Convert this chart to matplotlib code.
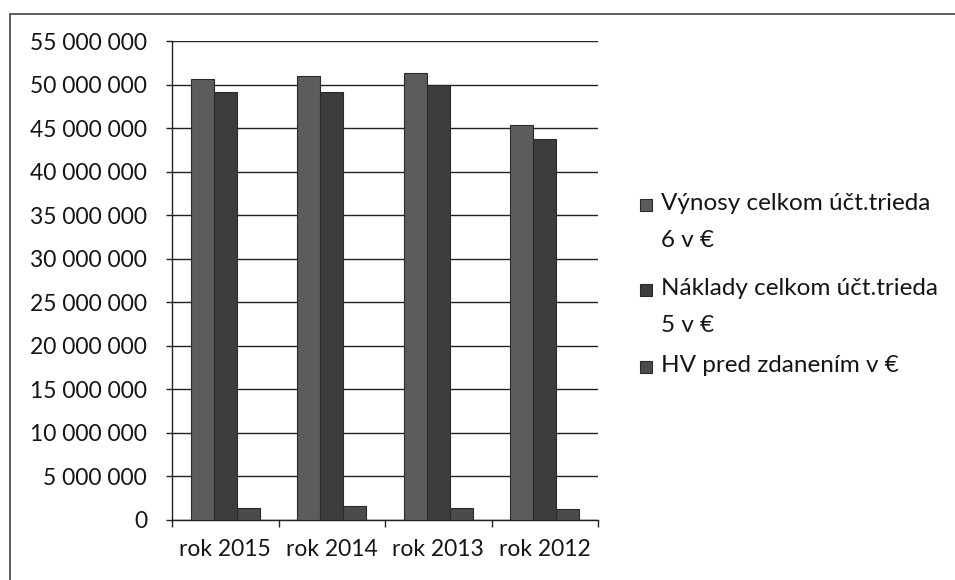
import matplotlib
matplotlib.use('Agg')
import matplotlib.pyplot as plt
import matplotlib.patches as patches
import numpy as np

# data
categories = ['rok 2015', 'rok 2014', 'rok 2013', 'rok 2012']
vynosy = [50.6e6, 51.0e6, 51.3e6, 45.3e6]
naklady = [49.2e6, 49.1e6, 49.9e6, 43.8e6]
hv = [1.38e6, 1.64e6, 1.38e6, 1.26e6]
series_names = ['Výnosy celkom účt.trieda\n6 v €',
                'Náklady celkom účt.trieda\n5 v €',
                'HV pred zdanením v €']
colors = ['#5c5c5c', '#3d3d3d', '#4b4b4b']

plt.rcParams['font.family'] = ['Lato', 'DejaVu Sans']
txt_color = '#151515'

W, H = 955, 580
fig = plt.figure(figsize=(W / 100, H / 100), dpi=100)
ax = fig.add_axes([172 / W, 1 - 520 / H, (598 - 172) / W, (520 - 41) / H])

x = np.arange(len(categories))
bw = 0.217
for i, vals in enumerate([vynosy, naklady, hv]):
    ax.bar(x + (i - 1) * bw, vals, width=bw, color=colors[i],
           edgecolor='#2a2a2a', linewidth=0.8, zorder=3)

ax.set_xlim(-0.5, len(categories) - 0.5)
ax.set_ylim(0, 55e6)
yt = np.arange(0, 55e6 + 1, 5e6)
ax.set_yticks(yt)
ax.set_yticklabels([f'{int(v):,}'.replace(',', ' ') for v in yt])
ax.yaxis.grid(True, color='#222222', linewidth=1.0, zorder=0)
ax.set_axisbelow(True)

# category labels sit between the boundary ticks
ax.set_xticks(np.arange(-0.5, len(categories), 1.0))
ax.set_xticklabels([])
ax.set_xticks(x, minor=True)
ax.set_xticklabels(categories, minor=True)
ax.tick_params(axis='x', which='minor', length=0, pad=14, labelsize=16.5, colors=txt_color)
ax.tick_params(axis='x', which='major', length=5, width=1, color='#222222')
ax.tick_params(axis='y', length=4.5, width=1, pad=13.5, labelsize=16.5,
               colors=txt_color, color='#222222')

for s in ['top', 'right']:
    ax.spines[s].set_visible(False)
for s in ['left', 'bottom']:
    ax.spines[s].set_color('#222222')
    ax.spines[s].set_linewidth(1.0)

# legend drawn by hand so the marker sits on the first text line
leg_y = [205, 290, 367]
for name, c, yy in zip(series_names, colors, leg_y):
    fig.patches.append(patches.Rectangle((640 / W, 1 - (yy + 6) / H), 12 / W, 12 / H,
                                         transform=fig.transFigure, facecolor=c,
                                         edgecolor='#2a2a2a', linewidth=0.8))
    fig.text(661 / W, 1 - (yy - 12) / H, name, fontsize=17.5, color=txt_color,
             va='top', ha='left', linespacing=1.95)

# outer frame of the chart area
fig.patches.append(patches.Rectangle((10 / W, -0.05), 1.1, 1 - 14 / H + 0.05,
                                     transform=fig.transFigure, fill=False,
                                     edgecolor='#444444', linewidth=1.2))

fig.savefig('out.png', dpi=100)
